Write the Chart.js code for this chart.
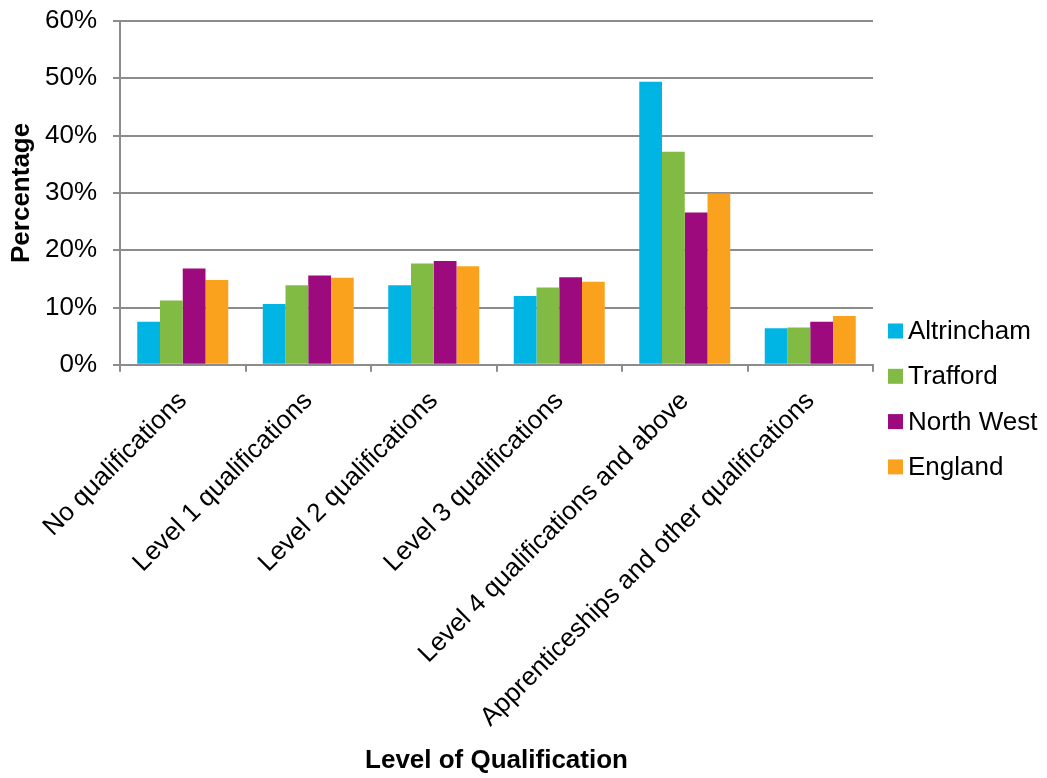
<!DOCTYPE html>
<html>
<head>
<meta charset="utf-8">
<script src="https://cdn.jsdelivr.net/npm/chart.js@4.4.1/dist/chart.umd.min.js"></script>
<style>
  html, body { margin: 0; padding: 0; background: #ffffff; }
  #wrap { width: 1047px; height: 778px; position: relative; }
</style>
</head>
<body>
<div id="wrap"><canvas id="chart"></canvas></div>
<script>
// Highest level of qualification, share of residents aged 16+
const categories = [
  'No qualifications',
  'Level 1 qualifications',
  'Level 2 qualifications',
  'Level 3 qualifications',
  'Level 4 qualifications and above',
  'Apprenticeships and other qualifications'
];
const altrincham = [7.5, 10.6, 13.9, 12.0, 49.4, 6.4];
const trafford   = [11.2, 13.9, 17.7, 13.5, 37.2, 6.5];
const northWest  = [16.8, 15.6, 18.1, 15.3, 26.6, 7.5];
const england    = [14.8, 15.2, 17.2, 14.5, 29.9, 8.5];
const yTicks = [0, 10, 20, 30, 40, 50, 60];

const seriesNames = ['Altrincham', 'Trafford', 'North West', 'England'];
const seriesColors = ['#00b4e4', '#82bb44', '#9c0a7e', '#faa21e'];
const seriesData = [altrincham, trafford, northWest, england];

const axisGrey = '#8c8c8c';
const fontFamily = '"Liberation Sans", Arial, sans-serif';

// Compact vertical legend to the right of the plot (square swatch, tight gap to text)
const sideLegend = {
  id: 'sideLegend',
  afterDraw(chart, args, opts) {
    const ctx = chart.ctx;
    ctx.save();
    ctx.font = opts.size + 'px ' + fontFamily;
    ctx.textBaseline = 'middle';
    ctx.textAlign = 'left';
    chart.data.datasets.forEach((ds, i) => {
      const cy = opts.top + i * opts.step;
      ctx.fillStyle = ds.backgroundColor;
      ctx.fillRect(opts.left, cy - opts.box / 2, opts.box, opts.box);
      ctx.fillStyle = '#000000';
      ctx.fillText(ds.label, opts.left + opts.box + opts.gap, cy + 1);
    });
    ctx.restore();
  }
};

new Chart(document.getElementById('chart'), {
  type: 'bar',
  data: {
    labels: categories,
    datasets: seriesData.map((d, i) => ({
      label: seriesNames[i],
      data: d,
      backgroundColor: seriesColors[i],
      borderWidth: 0,
      barPercentage: 1.0,
      categoryPercentage: 0.725
    }))
  },
  plugins: [sideLegend],
  options: {
    responsive: true,
    maintainAspectRatio: false,
    animation: false,
    layout: { padding: { top: 21, right: 174, left: 6, bottom: 2 } },
    plugins: {
      tooltip: { enabled: false },
      legend: { display: false },
      title: {
        display: true,
        position: 'bottom',
        fullSize: false,
        text: 'Level of Qualification',
        color: '#000000',
        font: { family: fontFamily, size: 26, weight: 'bold' },
        padding: { top: 13, bottom: 0 }
      },
      sideLegend: { left: 888, top: 331, step: 45.3, box: 15, gap: 5, size: 26 }
    },
    scales: {
      x: {
        afterFit: axis => { axis.height = 367; },
        grid: {
          drawOnChartArea: false,
          drawTicks: true,
          tickLength: 7,
          color: axisGrey,
          lineWidth: 2,
          offset: true
        },
        border: { color: axisGrey, width: 2 },
        ticks: {
          color: '#000000',
          font: { family: fontFamily, size: 26 },
          minRotation: 45,
          maxRotation: 45,
          padding: 14,
          autoSkip: false
        }
      },
      y: {
        min: 0,
        max: 60,
        afterBuildTicks: axis => { axis.ticks = yTicks.map(v => ({ value: v })); },
        afterFit: axis => { axis.width = 114; axis.paddingTop = 0; axis.paddingBottom = 0; },
        grid: {
          color: axisGrey,
          lineWidth: 2,
          drawTicks: true,
          tickLength: 7
        },
        border: { color: axisGrey, width: 2 },
        ticks: {
          color: '#000000',
          font: { family: fontFamily, size: 26 },
          padding: 16,
          callback: v => v + '%'
        },
        title: {
          display: true,
          text: 'Percentage',
          color: '#000000',
          font: { family: fontFamily, size: 26, weight: 'bold' },
          padding: { top: 0, bottom: 0 }
        }
      }
    }
  }
});
</script>
</body>
</html>
